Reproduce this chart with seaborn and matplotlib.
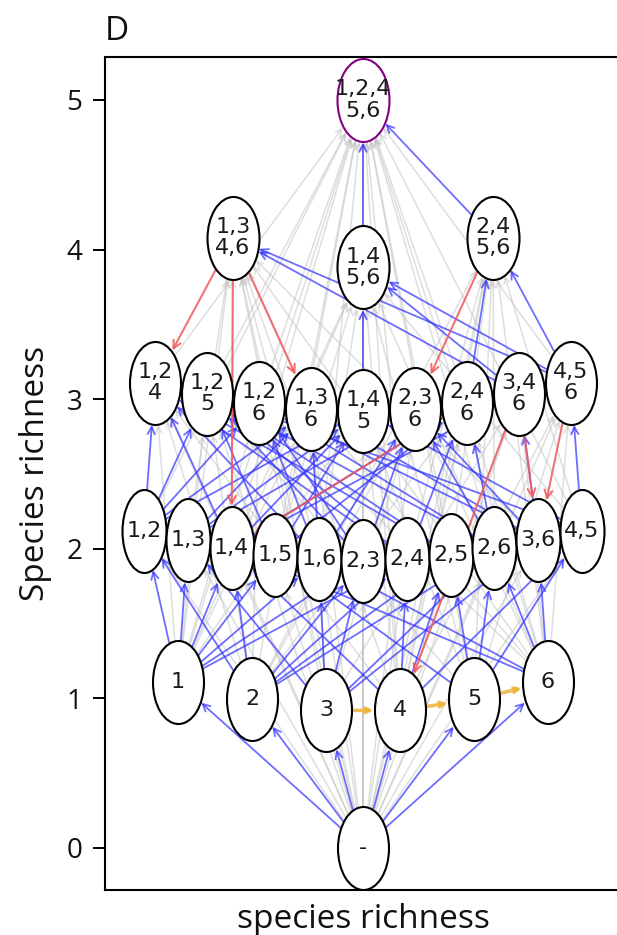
import numpy as np
import pandas as pd
import matplotlib
matplotlib.use("Agg")
import matplotlib.pyplot as plt
import seaborn as sns
from matplotlib.patches import FancyArrowPatch
from matplotlib.path import Path
from matplotlib.markers import MarkerStyle
from matplotlib.transforms import Affine2D

# ---------------- data ----------------
level0 = ["-"]
level1 = ["1", "2", "3", "4", "5", "6"]
level2 = ["12", "13", "14", "15", "16", "23", "24", "25", "26", "36", "45"]
level3 = ["124", "125", "126", "136", "145", "236", "246", "346", "456"]
level4 = ["1346", "1456", "2456"]
level5 = ["12456"]
richness_ticks = [0, 1, 2, 3, 4, 5]
final_community = ["12456"]

# observed assembly transitions (gain of species)
blue_edges = [
    ("-", "1"), ("-", "2"), ("-", "3"), ("-", "4"), ("-", "5"), ("-", "6"),
    ("1", "12"), ("1", "13"), ("1", "14"), ("1", "15"), ("1", "16"),
    ("2", "12"), ("2", "23"), ("2", "24"), ("2", "25"), ("2", "26"),
    ("3", "13"), ("3", "23"), ("3", "36"),
    ("4", "14"), ("4", "24"), ("4", "45"),
    ("5", "15"), ("5", "25"), ("5", "45"),
    ("6", "16"), ("6", "26"), ("6", "36"),
    ("1", "23"), ("1", "24"), ("2", "14"), ("3", "16"),
    ("6", "14"), ("5", "26"), ("4", "25"), ("3", "26"),
    ("12", "124"), ("12", "125"), ("12", "126"),
    ("14", "124"), ("14", "145"), ("24", "124"), ("24", "246"),
    ("15", "125"), ("15", "145"), ("25", "125"),
    ("16", "126"), ("16", "136"),
    ("26", "126"), ("26", "236"), ("26", "246"),
    ("13", "136"), ("36", "136"), ("36", "236"), ("36", "346"),
    ("23", "236"), ("45", "145"), ("45", "456"),
    ("23", "125"), ("24", "125"), ("25", "124"), ("26", "125"),
    ("36", "126"), ("23", "126"), ("45", "125"), ("16", "124"),
    ("13", "236"), ("14", "246"), ("13", "145"), ("14", "346"),
    ("16", "236"), ("15", "246"), ("12", "136"), ("12", "145"),
    ("346", "1346"), ("456", "1346"),
    ("145", "1456"), ("456", "1456"), ("346", "1456"),
    ("246", "2456"), ("456", "2456"),
    ("1456", "12456"), ("2456", "12456"),
]
# transitions with species loss
red_edges = [
    ("1346", "124"), ("1346", "14"), ("1346", "136"),
    ("2456", "236"), ("346", "36"), ("456", "36"),
    ("346", "4"), ("246", "14"),
]
# neutral transitions among single species
orange_edges = [("3", "4"), ("4", "5"), ("5", "6")]

levels = [level0, level1, level2, level3, level4, level5]

# ---------------- layout ----------------
spacing = {0: 0.0, 1: 74.0, 2: 43.8, 3: 52.0, 4: 130.0, 5: 0.0}
arch = {0: (0.0, 0.0), 1: (0.11, 0.2), 2: (0.12, 0.2), 3: (0.11, 0.19),
        4: (0.08, 0.2), 5: (0.0, 0.0)}
node_w = {0: 51, 1: 51, 2: 44, 3: 51, 4: 52, 5: 52}
NODE_H = 83.0

rows = []
for lev, names in enumerate(levels):
    n = len(names)
    half = (n - 1) / 2
    for i, name in enumerate(names):
        off = i - half
        u = off / half if half > 0 else 0.0
        e, A = arch[lev]
        y = lev + e - A * np.cos(np.pi * u / 2) if n > 1 else lev
        rows.append(dict(name=name, level=lev, x=off * spacing[lev], y=y,
                         w=node_w[lev]))
nodes = pd.DataFrame(rows).set_index("name", drop=False)


def fmt(name):
    if name == "-":
        return "-"
    d = list(name)
    if len(d) <= 2:
        return ",".join(d)
    if len(d) == 3:
        return ",".join(d[:2]) + "\n" + d[2]
    if len(d) == 4:
        return ",".join(d[:2]) + "\n" + ",".join(d[2:])
    return ",".join(d[:3]) + "\n" + ",".join(d[3:])


def as_set(name):
    return set() if name == "-" else set(name)


colored = set(blue_edges) | set(red_edges) | set(orange_edges)
gray_edges = []
for a in nodes.index:
    for b in nodes.index:
        if a != b and as_set(a) < as_set(b) and (a, b) not in colored:
            gray_edges.append((a, b))

# ---------------- figure ----------------
sns.set_theme(style="ticks")
plt.rcParams["font.family"] = ["Open Sans", "DejaVu Sans"]

fig = plt.figure(figsize=(6.17, 9.35), dpi=100)
ax = fig.add_axes([105 / 617, 45 / 935, 516 / 617, 833 / 935])
ax.set_xlim(-258, 258)
ax.set_ylim(-0.281, 5.287)


def ellipse_marker(w, h):
    return MarkerStyle(Path.unit_circle().transformed(Affine2D().scale(w / h, 1.0)))


s_pts = (NODE_H * 72 / 100) ** 2
for lev in range(6):
    sub = nodes[nodes.level == lev]
    for fc_flag in (False, True):
        part = sub[sub.name.isin(final_community) == fc_flag]
        if part.empty:
            continue
        sns.scatterplot(data=part, x="x", y="y", ax=ax,
                        marker=ellipse_marker(node_w[lev], NODE_H),
                        s=s_pts, color="white",
                        edgecolor="#800080" if fc_flag else "black",
                        linewidth=1.5, zorder=3, legend=False)

for name, r in nodes.iterrows():
    ax.text(r.x, r.y, fmt(name), ha="center", va="center", fontsize=16,
            family="DejaVu Sans", color="#1a1a1a", linespacing=1.1, zorder=4)


def radius_pts(name, ang):
    r = nodes.loc[name]
    a, b = r.w / 2, NODE_H / 2
    rad = 1.0 / np.sqrt((np.cos(ang) / a) ** 2 + (np.sin(ang) / b) ** 2)
    return rad * 72 / 100


def draw_edges(edges, color, lw, alpha, z, ms):
    for a, b in edges:
        pa = (nodes.loc[a, "x"], nodes.loc[a, "y"])
        pb = (nodes.loc[b, "x"], nodes.loc[b, "y"])
        da = ax.transData.transform(pa)
        db = ax.transData.transform(pb)
        ang = np.arctan2(db[1] - da[1], db[0] - da[0])
        arr = FancyArrowPatch(pa, pb, arrowstyle="->", mutation_scale=ms,
                              shrinkA=radius_pts(a, ang) + 0.5,
                              shrinkB=radius_pts(b, ang) + 0.8,
                              color=color, lw=lw, alpha=alpha, zorder=z)
        ax.add_patch(arr)


draw_edges(gray_edges, "#c4c4c4", 1.1, 0.55, 1.0, 11)
draw_edges(blue_edges, "#3535ff", 1.3, 0.72, 1.5, 13)
draw_edges(red_edges, "#f05a5a", 1.5, 0.85, 1.6, 14)
draw_edges(orange_edges, "#f2b23a", 2.6, 0.85, 1.7, 8)

ax.set_xticks([])
ax.set_yticks(richness_ticks)
ax.tick_params(axis="y", length=8.5, width=1.4, labelsize=20, pad=8,
               color="black", labelcolor="#111111")
for side in ["top", "bottom", "left"]:
    ax.spines[side].set_linewidth(1.5)
    ax.spines[side].set_color("black")
ax.spines["right"].set_visible(False)

ax.set_ylabel("Species richness", fontsize=24, labelpad=10, color="#111111")
ax.set_xlabel("species richness", fontsize=24, labelpad=9, color="#111111")
ax.set_title("D", loc="left", fontsize=24, pad=12, color="#111111")

fig.savefig("out.png", dpi=100)
